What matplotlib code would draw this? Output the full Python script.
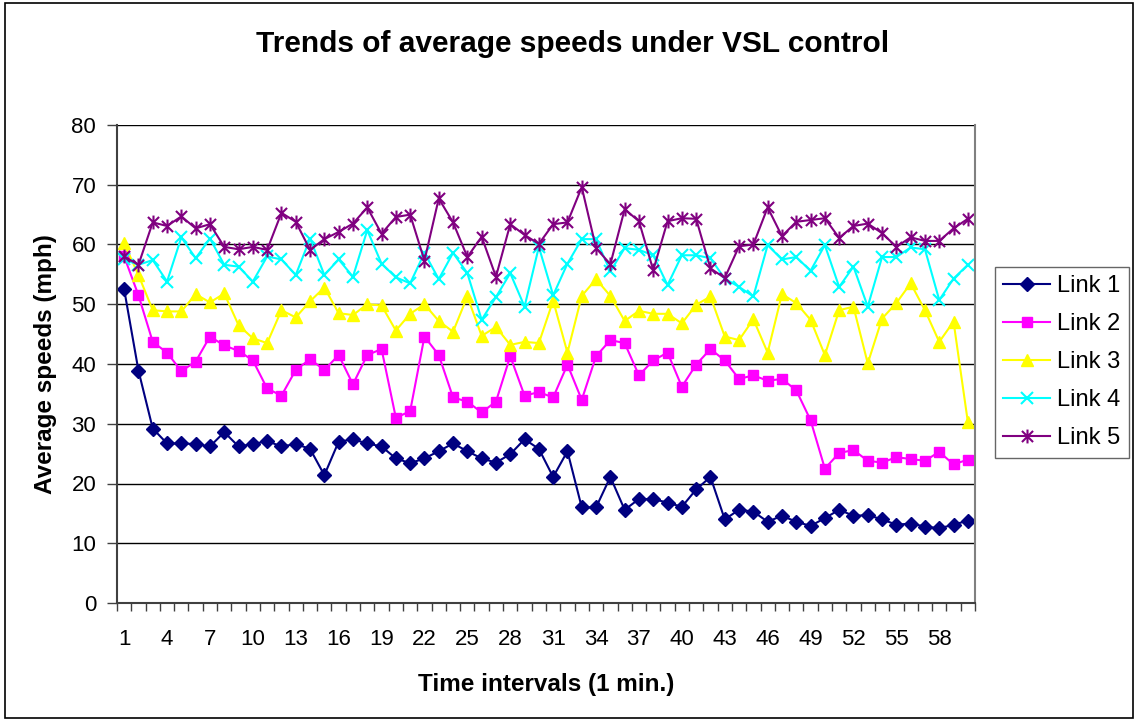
import matplotlib

matplotlib.use("Agg")
import matplotlib.pyplot as plt
from matplotlib.path import Path
from matplotlib.patches import Rectangle

plt.rcParams["font.family"] = ["Liberation Sans", "DejaVu Sans"]

# average speed per 1-minute interval, mph
intervals = list(range(1, 61))

link1 = [52.5, 38.9, 29.2, 26.7, 26.7, 26.6, 26.2, 28.6, 26.2, 26.6,
         27.1, 26.2, 26.6, 25.8, 21.4, 27.0, 27.4, 26.7, 26.2, 24.2,
         23.4, 24.2, 25.4, 26.7, 25.4, 24.2, 23.5, 24.9, 27.4, 25.8,
         21.1, 25.4, 16.0, 16.0, 21.1, 15.6, 17.4, 17.4, 16.8, 16.1,
         19.0, 21.1, 14.0, 15.6, 15.3, 13.6, 14.6, 13.6, 12.9, 14.2,
         15.6, 14.6, 14.7, 14.0, 13.1, 13.3, 12.8, 12.5, 13.1, 13.8]

link2 = [58.0, 51.5, 43.7, 41.9, 38.8, 40.4, 44.6, 43.1, 42.2, 40.6,
         35.9, 34.7, 39.0, 40.8, 39.0, 41.5, 36.6, 41.5, 42.5, 31.0,
         32.1, 44.6, 41.5, 34.4, 33.7, 31.9, 33.7, 41.3, 34.7, 35.3,
         34.4, 39.9, 34.0, 41.3, 44.0, 43.5, 38.1, 40.6, 41.9, 36.2,
         39.9, 42.5, 40.6, 37.5, 38.1, 37.2, 37.5, 35.6, 30.6, 22.5,
         25.1, 25.6, 23.8, 23.5, 24.4, 24.1, 23.8, 25.3, 23.2, 24.0]

link3 = [60.2, 54.9, 49.0, 48.8, 48.8, 51.7, 50.3, 51.8, 46.5, 44.3,
         43.5, 49.0, 47.8, 50.5, 52.8, 48.5, 48.2, 50.0, 49.8, 45.6,
         48.4, 50.0, 47.2, 45.4, 51.3, 44.7, 46.2, 43.2, 43.7, 43.5,
         50.6, 41.9, 51.4, 54.2, 51.4, 47.2, 48.9, 48.4, 48.4, 46.8,
         49.9, 51.3, 44.6, 44.0, 47.5, 41.9, 51.7, 50.2, 47.4, 41.5,
         49.0, 49.6, 40.1, 47.6, 50.2, 53.5, 49.0, 43.7, 47.1, 30.3]

link4 = [57.5, 56.6, 57.4, 53.8, 61.2, 57.7, 61.0, 56.6, 56.3, 53.8,
         58.0, 57.5, 54.9, 61.0, 54.9, 57.5, 54.6, 62.4, 56.8, 54.5,
         53.5, 58.6, 54.2, 58.6, 55.2, 47.4, 51.2, 55.2, 49.6, 59.6,
         51.5, 56.8, 60.9, 60.9, 55.5, 59.4, 59.1, 58.2, 53.2, 58.2,
         58.2, 57.7, 54.3, 52.9, 51.3, 59.9, 57.5, 57.9, 55.6, 59.9,
         52.9, 56.3, 49.6, 57.9, 57.9, 59.5, 59.2, 50.7, 54.3, 56.6]

link5 = [58.0, 56.6, 63.7, 63.1, 64.7, 62.7, 63.4, 59.6, 59.2, 59.6,
         59.1, 65.3, 63.8, 59.1, 60.9, 62.1, 63.5, 66.2, 61.8, 64.6,
         65.0, 57.3, 67.7, 63.7, 57.9, 61.3, 54.6, 63.4, 61.6, 60.1,
         63.4, 63.7, 69.6, 59.4, 56.7, 65.9, 63.9, 55.7, 63.9, 64.4,
         64.3, 56.0, 54.4, 59.7, 60.0, 66.2, 61.4, 63.8, 64.1, 64.4,
         61.1, 63.1, 63.5, 61.9, 59.6, 61.2, 60.6, 60.6, 62.7, 64.3]

labels = ["Link 1", "Link 2", "Link 3", "Link 4", "Link 5"]

# Excel-style star: an x with a vertical stroke through it
star = Path(
    [(-1, -1), (1, 1), (-1, 1), (1, -1), (0, -1.25), (0, 1.25)],
    [Path.MOVETO, Path.LINETO, Path.MOVETO, Path.LINETO, Path.MOVETO, Path.LINETO],
)

styles = [
    dict(color="#000080", marker="D", markersize=7),
    dict(color="#FF00FF", marker="s", markersize=7),
    dict(color="#FFFF00", marker="^", markersize=9),
    dict(color="#00FFFF", marker="x", markersize=8, markeredgewidth=1.5),
    dict(color="#800080", marker=star, markersize=10, markeredgewidth=1.5,
         markerfacecolor="none"),
]

fig = plt.figure(figsize=(11.38, 7.21), dpi=100)
ax = fig.add_axes([117 / 1138, 1 - 603 / 721, 858 / 1138, 478 / 721])

for series, label, st in zip([link1, link2, link3, link4, link5], labels, styles):
    ax.plot(intervals, series, label=label, linewidth=1.5, **st)

ax.set_xlim(0.5, 60.5)
ax.set_ylim(0, 80)
ax.set_yticks(range(0, 81, 10))
ax.yaxis.grid(True, color="black", linewidth=1.0)
ax.set_axisbelow(True)

ax.set_xticks(range(1, 61, 3))
ax.set_xticks([i + 0.5 for i in range(0, 61)], minor=True)
ax.tick_params(axis="x", which="major", length=0, pad=19, labelsize=16)
ax.tick_params(axis="x", which="minor", length=6, width=1, color="#404040")
ax.tick_params(axis="y", length=7, width=1, color="#404040", labelsize=16, pad=8)

ax.spines["top"].set_visible(False)
ax.spines["left"].set_color("#404040")
ax.spines["left"].set_linewidth(1.5)
ax.spines["bottom"].set_color("#404040")
ax.spines["bottom"].set_linewidth(1.5)
ax.spines["right"].set_color("#808080")
ax.spines["right"].set_linewidth(1.5)

ax.set_xlabel("Time intervals (1 min.)", fontsize=17.5, fontweight="bold", labelpad=16)
ax.set_ylabel("Average speeds (mph)", fontsize=17.5, fontweight="bold", labelpad=10)
fig.suptitle("Trends of average speeds under VSL control", x=0.503, y=0.958,
             fontsize=21.5, fontweight="bold")

leg = ax.legend(loc="upper left", bbox_to_anchor=(1.023, 0.703), fontsize=17,
                frameon=True, fancybox=False, edgecolor="#404040",
                handlelength=2.0, handletextpad=0.3, labelspacing=0.68,
                borderpad=0.35, borderaxespad=0)
leg.get_frame().set_linewidth(1.0)

fig.patches.append(Rectangle((0.004, 0.004), 0.992, 0.992, transform=fig.transFigure,
                             fill=False, edgecolor="black", linewidth=1.2))

fig.savefig("out.png", dpi=100)
